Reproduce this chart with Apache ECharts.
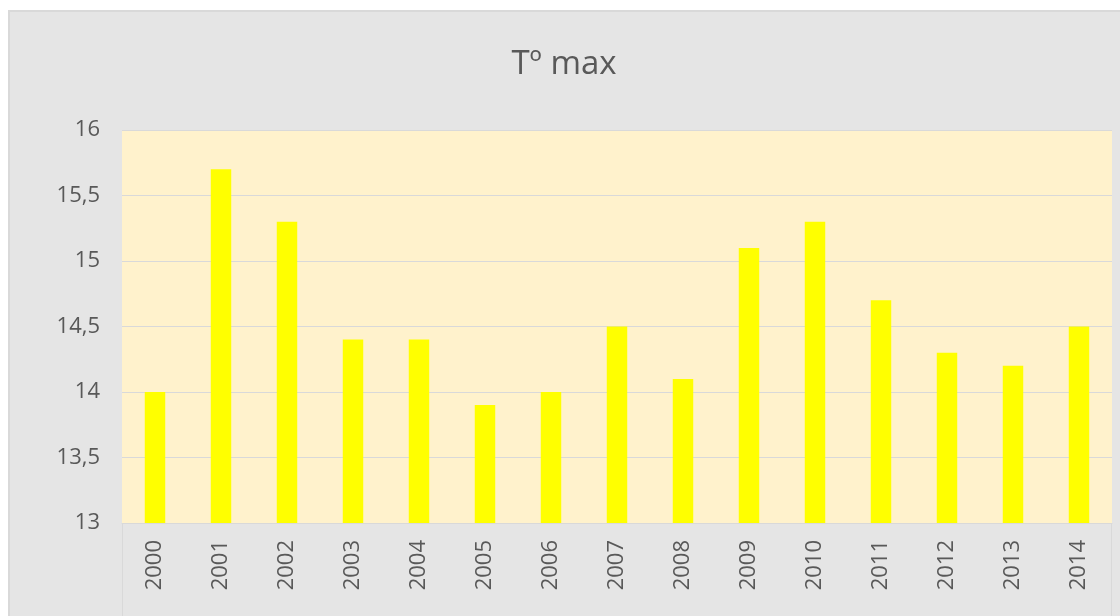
<!DOCTYPE html>
<html>
<head>
<meta charset="utf-8">
<script src="https://cdn.jsdelivr.net/npm/echarts@6/dist/echarts.min.js"></script>
<style>
html,body{margin:0;padding:0;background:#ffffff;width:1120px;height:616px;overflow:hidden;}
#panel{position:absolute;left:8px;top:10px;width:1112px;height:606px;background:#e5e5e5;box-sizing:border-box;border-left:2px solid #d9d9d9;border-top:2px solid #d9d9d9;}
#chart{position:absolute;left:-2px;top:-2px;width:1112px;height:606px;}
</style>
</head>
<body>
<div id="panel"><div id="chart"></div></div>
<script>
const years = ['2000','2001','2002','2003','2004','2005','2006','2007','2008','2009','2010','2011','2012','2013','2014'];
const tmax = [14.0, 15.7, 15.3, 14.4, 14.4, 13.9, 14.0, 14.5, 14.1, 15.1, 15.3, 14.7, 14.3, 14.2, 14.5];
const chartTitle = 'Tº max';

const font = 'Open Sans, Noto Sans, sans-serif';
const chart = echarts.init(document.getElementById('chart'), null, {renderer: 'canvas'});
chart.setOption({
  backgroundColor: 'transparent',
  animation: false,
  title: {
    text: chartTitle,
    left: 'center',
    top: 33,
    textStyle: {color: '#595959', fontSize: 33, fontWeight: 'normal', fontFamily: font}
  },
  grid: {
    left: 114, right: 8, top: 120, bottom: 93,
    show: true, backgroundColor: '#fff2cc', borderWidth: 0
  },
  xAxis: {
    type: 'category',
    data: years,
    axisLine: {show: true, lineStyle: {color: '#d9d9d9', width: 1}},
    axisTick: {show: false},
    axisLabel: {rotate: 90, margin: 17, color: '#595959', fontSize: 22, fontFamily: font}
  },
  yAxis: {
    type: 'value',
    min: 13, max: 16, interval: 0.5,
    axisLine: {show: false},
    axisTick: {show: false},
    splitLine: {show: true, lineStyle: {color: '#d9d9d9', width: 1}},
    axisLabel: {
      margin: 22, color: '#595959', fontSize: 22, fontFamily: font,
      formatter: v => String(v).replace('.', ',')
    }
  },
  series: [{
    type: 'bar',
    data: tmax,
    barWidth: '31%',
    itemStyle: {color: '#ffff00'}
  }]
});
const gb = chart.getModel().getComponent('grid').coordinateSystem.getRect();
chart.setOption({
  graphic: [
    {type: 'line', shape: {x1: gb.x + 0.5, y1: gb.y + gb.height, x2: gb.x + 0.5, y2: 606}, style: {stroke: '#d9d9d9', lineWidth: 1}, silent: true},
    {type: 'line', shape: {x1: gb.x + gb.width - 0.5, y1: gb.y + gb.height, x2: gb.x + gb.width - 0.5, y2: 606}, style: {stroke: '#d9d9d9', lineWidth: 1}, silent: true}
  ]
});
</script>
</body>
</html>
